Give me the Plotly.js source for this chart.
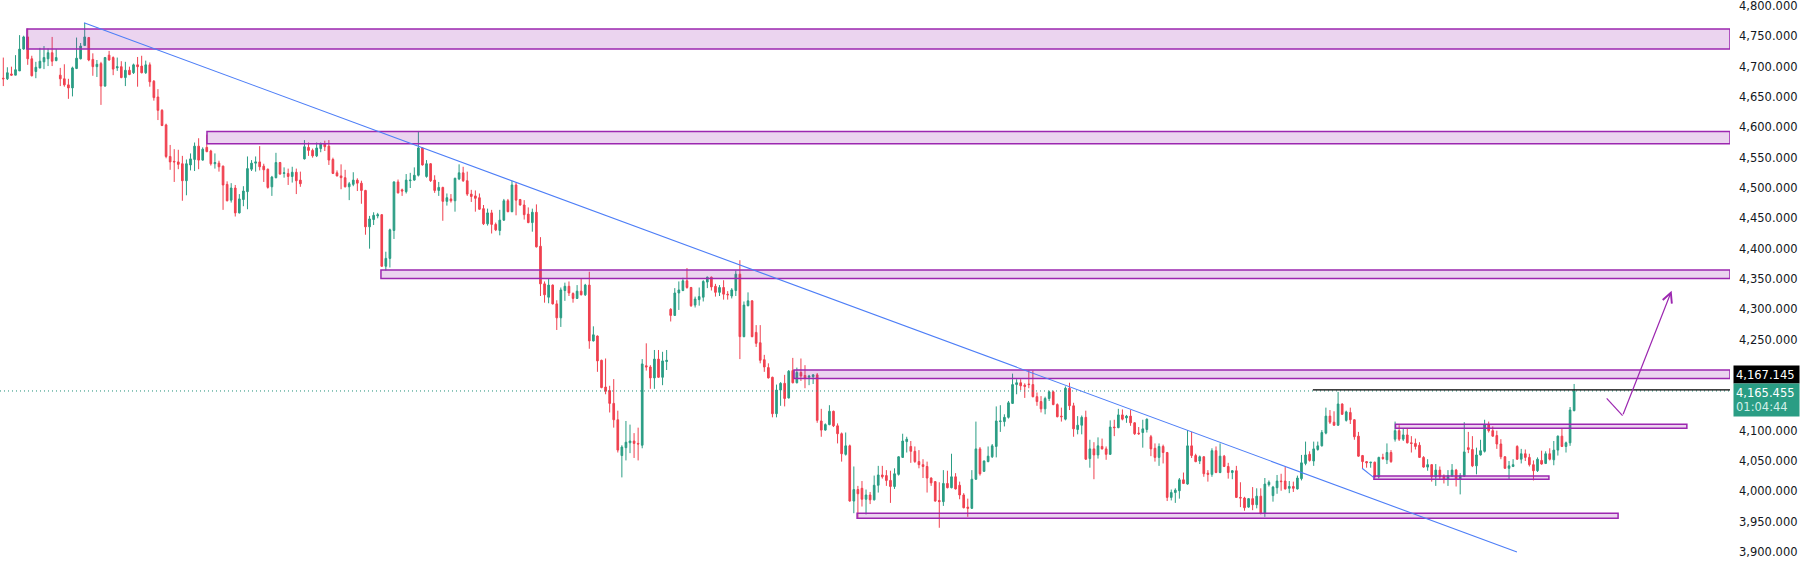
<!DOCTYPE html>
<html>
<head>
<meta charset="utf-8">
<script src="https://cdn.plot.ly/plotly-3.0.1.min.js"></script>
<style>
  html, body { margin: 0; padding: 0; background: #ffffff; }
  #chart { width: 1802px; height: 563px; }
</style>
</head>
<body>
<div id="chart"></div>
<script>
// ---- candle data ----
const openPrices = [
  4681,4680,4688,4686,4693,4729,4749,4713,4692,4698,
  4708,4713,4723,4710,4686,4680,4670,4665,4697,4713,
  4735,4748,4712,4700,4705,4668,4719,4715,4698,4700,
  4682,4694,4690,4703,4701,4690,4703,4676,4650,4628,
  4604,4552,4544,4543,4540,4512,4538,4547,4569,4546,
  4567,4561,4540,4541,4536,4506,4480,4500,4459,4481,
  4494,4531,4541,4543,4536,4531,4502,4517,4542,4524,
  4524,4519,4526,4513,4548,4567,4562,4553,4565,4573,
  4569,4547,4525,4520,4517,4502,4506,4513,4508,4496,
  4436,4448,4454,4456,4371,4384,4430,4510,4497,4494,
  4512,4513,4521,4566,4519,4540,4513,4496,4501,4478,
  4482,4479,4515,4525,4512,4490,4487,4484,4466,4441,
  4459,4440,4430,4447,4479,4461,4505,4481,4472,4457,
  4443,4460,4404,4342,4320,4340,4309,4286,4331,4338,
  4326,4318,4330,4324,4340,4248,4256,4216,4172,4166,
  4145,4118,4059,4072,4080,4083,4079,4076,4207,4205,
  4187,4218,4188,4214,4300,4290,4327,4331,4347,4336,
  4307,4316,4320,4345,4353,4338,4328,4336,4325,4322,
  4331,4358,4255,4306,4314,4262,4245,4217,4204,4188,
  4128,4167,4178,4154,4199,4179,4196,4191,4188,4189,
  4192,4116,4101,4110,4132,4108,4095,4061,4075,3984,
  4003,4005,3987,3994,3986,4010,4027,4026,4018,4008,
  4028,4056,4082,4074,4066,4049,4044,4041,4022,4016,
  3985,3983,4013,4006,4024,4010,3994,3974,3972,4020,
  4070,4033,4049,4057,4074,4115,4115,4122,4145,4176,
  4179,4175,4177,4176,4156,4148,4136,4153,4164,4143,
  4124,4119,4170,4141,4102,4109,4122,4054,4070,4060,
  4074,4070,4061,4106,4105,4126,4121,4124,4113,4096,
  4097,4102,4090,4071,4056,4074,4064,3990,3998,4001,
  4019,4012,4075,4059,4050,4057,4030,4028,4067,4031,
  4058,4041,4031,4034,3990,3989,3974,3988,3978,3992,
  3964,4011,3993,4006,4017,4017,4005,4008,4004,4021,
  4046,4061,4050,4069,4075,4096,4124,4114,4109,4144,
  4117,4130,4118,4091,4059,4049,4047,4048,4024,4056,
  4052,4064,4086,4100,4086,4093,4080,4079,4076,4056,
  4040,4044,4024,4035,4025,4020,4025,4035,4020,4025,
  4072,4069,4042,4060,4066,4110,4100,4092,4078,4057,
  4038,4041,4074,4053,4062,4056,4044,4034,4051,4046,
  4062,4052,4068,4091,4074,4080,4133
];
const highPrices = [
  4715,4699,4700,4719,4752,4751,4763,4718,4708,4731,
  4734,4730,4749,4729,4698,4704,4680,4700,4748,4739,
  4772,4749,4722,4711,4708,4716,4726,4717,4715,4709,
  4708,4700,4705,4716,4718,4710,4707,4678,4663,4630,
  4606,4571,4564,4563,4553,4547,4557,4575,4582,4567,
  4588,4563,4557,4545,4537,4511,4508,4505,4490,4503,
  4552,4546,4552,4569,4540,4532,4520,4558,4543,4534,
  4532,4535,4532,4527,4579,4575,4565,4575,4575,4578,
  4579,4550,4529,4539,4530,4510,4526,4516,4512,4497,
  4454,4460,4459,4457,4395,4433,4511,4514,4499,4523,
  4525,4534,4594,4567,4546,4541,4521,4510,4502,4491,
  4490,4517,4539,4535,4527,4497,4496,4491,4472,4466,
  4464,4443,4464,4482,4482,4512,4509,4482,4480,4468,
  4466,4473,4419,4346,4351,4341,4315,4336,4344,4346,
  4328,4340,4351,4342,4362,4272,4257,4217,4219,4174,
  4185,4133,4076,4116,4110,4096,4105,4218,4244,4208,
  4233,4233,4230,4233,4302,4335,4346,4352,4368,4337,
  4321,4336,4348,4354,4354,4342,4340,4348,4330,4335,
  4364,4381,4313,4328,4315,4274,4274,4225,4211,4189,
  4176,4180,4192,4200,4220,4204,4219,4208,4192,4193,
  4195,4136,4112,4142,4133,4112,4097,4097,4077,4041,
  4009,4017,4003,3999,4026,4042,4042,4035,4034,4038,
  4058,4095,4090,4083,4074,4068,4053,4049,4023,4017,
  4015,4035,4034,4062,4030,4016,3997,3988,4035,4115,
  4073,4051,4074,4078,4140,4142,4127,4149,4194,4185,
  4185,4178,4199,4199,4163,4157,4156,4166,4166,4145,
  4138,4173,4179,4146,4124,4125,4133,4085,4081,4089,
  4087,4074,4117,4118,4136,4135,4126,4134,4114,4106,
  4118,4120,4093,4079,4079,4077,4065,4003,4005,4022,
  4031,4101,4098,4062,4059,4058,4035,4071,4074,4079,
  4060,4047,4035,4042,4015,3991,3989,4007,4005,4005,
  4022,4018,4009,4027,4029,4040,4017,4016,4026,4060,
  4082,4066,4082,4082,4101,4138,4134,4132,4164,4145,
  4133,4138,4119,4098,4060,4050,4048,4049,4057,4062,
  4079,4068,4115,4109,4104,4104,4091,4087,4081,4058,
  4053,4045,4045,4041,4028,4035,4045,4037,4030,4114,
  4098,4091,4072,4085,4118,4115,4107,4100,4086,4058,
  4050,4053,4076,4070,4069,4062,4051,4056,4067,4066,
  4071,4083,4092,4104,4082,4139,4177
];
const lowPrices = [
  4668,4678,4685,4686,4693,4728,4703,4684,4681,4697,
  4696,4701,4701,4709,4668,4667,4647,4651,4696,4712,
  4734,4709,4685,4683,4637,4667,4710,4686,4693,4681,
  4668,4686,4688,4667,4689,4688,4667,4644,4612,4602,
  4549,4530,4510,4531,4479,4488,4529,4528,4531,4545,
  4559,4537,4532,4527,4464,4478,4476,4453,4458,4470,
  4465,4528,4527,4529,4510,4499,4487,4516,4522,4517,
  4505,4509,4490,4502,4547,4553,4550,4551,4559,4561,
  4538,4523,4519,4498,4501,4480,4503,4495,4474,4423,
  4400,4439,4450,4370,4364,4369,4416,4491,4487,4491,
  4500,4512,4519,4537,4517,4510,4492,4487,4446,4471,
  4476,4461,4513,4510,4487,4477,4461,4464,4439,4438,
  4425,4429,4422,4446,4460,4460,4455,4471,4448,4442,
  4428,4402,4322,4311,4310,4308,4266,4271,4314,4322,
  4311,4317,4323,4322,4235,4247,4197,4170,4160,4130,
  4105,4064,4023,4051,4063,4055,4051,4071,4199,4169,
  4169,4187,4175,4200,4280,4289,4299,4330,4334,4304,
  4303,4306,4313,4335,4331,4321,4322,4316,4316,4318,
  4322,4218,4254,4305,4254,4238,4211,4197,4186,4122,
  4122,4141,4140,4153,4178,4178,4182,4170,4175,4177,
  4113,4090,4100,4109,4106,4079,4049,4059,3983,3964,
  3956,3975,3962,3979,3985,3998,4021,4009,3981,4004,
  4026,4055,4064,4047,4047,4038,4022,3998,4009,3983,
  3940,3976,4005,4005,4003,3987,3972,3958,3971,4019,
  4026,4032,4048,4055,4056,4098,4107,4120,4144,4160,
  4167,4154,4170,4155,4141,4130,4127,4149,4142,4122,
  4115,4117,4134,4090,4094,4094,4052,4039,4020,4054,
  4069,4052,4060,4091,4104,4117,4113,4108,4093,4093,
  4072,4097,4058,4049,4042,4046,3984,3985,3981,3988,
  4012,4011,4055,4048,4045,4024,4016,4024,4030,4030,
  4040,4021,4020,3989,3974,3968,3973,3969,3972,3962,
  3958,4008,3983,3996,4001,4003,3997,3999,4003,4018,
  4043,4049,4042,4067,4074,4094,4111,4108,4108,4126,
  4115,4111,4085,4057,4038,4039,4039,4021,4021,4052,
  4045,4047,4082,4083,4083,4079,4064,4069,4055,4039,
  4034,4016,4009,4020,4013,4009,4024,4008,3995,4024,
  4063,4040,4028,4059,4064,4097,4090,4070,4053,4037,
  4020,4040,4052,4046,4050,4041,4018,4032,4044,4045,
  4051,4043,4059,4073,4064,4075,4132
];
const closePrices = [
  4680,4690,4686,4695,4729,4749,4713,4685,4699,4709,
  4715,4723,4709,4715,4680,4670,4665,4698,4714,4734,
  4749,4711,4700,4704,4668,4715,4711,4696,4700,4682,
  4694,4687,4703,4700,4690,4703,4675,4649,4628,4603,
  4552,4543,4543,4539,4512,4540,4548,4569,4546,4564,
  4560,4540,4542,4535,4505,4479,4500,4459,4482,4495,
  4532,4541,4543,4535,4530,4501,4518,4542,4523,4525,
  4519,4526,4512,4507,4568,4562,4553,4566,4573,4568,
  4546,4524,4520,4517,4502,4507,4513,4508,4496,4436,
  4449,4455,4456,4371,4384,4431,4510,4492,4495,4513,
  4513,4521,4566,4538,4540,4512,4496,4501,4478,4484,
  4479,4516,4525,4512,4490,4486,4483,4465,4441,4459,
  4440,4431,4447,4479,4461,4505,4480,4472,4456,4443,
  4460,4403,4342,4324,4340,4309,4286,4332,4338,4327,
  4318,4330,4324,4340,4248,4258,4215,4171,4165,4145,
  4118,4068,4073,4081,4083,4079,4078,4210,4205,4187,
  4218,4188,4215,4216,4290,4327,4332,4347,4336,4306,
  4317,4321,4346,4353,4337,4328,4336,4325,4324,4332,
  4358,4255,4307,4314,4255,4244,4216,4205,4187,4128,
  4167,4178,4153,4198,4179,4196,4190,4186,4190,4192,
  4117,4101,4110,4132,4108,4095,4062,4075,3984,4003,
  3996,3987,3994,3986,4010,4027,4024,4018,4008,4029,
  4057,4083,4086,4066,4049,4044,4041,4022,4014,3984,
  3983,4013,4006,4024,4004,3994,3973,3972,4020,4070,
  4029,4050,4058,4075,4116,4116,4122,4146,4176,4179,
  4174,4173,4176,4156,4148,4136,4153,4164,4143,4123,
  4123,4170,4141,4103,4109,4122,4053,4070,4060,4075,
  4070,4061,4106,4105,4126,4119,4124,4113,4095,4095,
  4103,4119,4070,4056,4074,4064,3990,3998,4002,4019,
  4013,4075,4059,4049,4057,4029,4028,4067,4031,4058,
  4041,4031,4034,3990,3989,3973,3988,3978,3992,3964,
  4012,4015,4007,4017,4016,4004,4008,4005,4022,4047,
  4060,4051,4070,4075,4097,4124,4114,4109,4144,4127,
  4131,4118,4090,4058,4049,4047,4048,4024,4056,4054,
  4064,4049,4100,4086,4093,4080,4079,4074,4056,4040,
  4044,4024,4035,4024,4020,4026,4035,4020,4026,4065,
  4069,4042,4060,4067,4110,4100,4091,4078,4057,4038,
  4042,4044,4053,4062,4056,4044,4034,4053,4045,4062,
  4053,4068,4091,4074,4080,4134,4165.455
];

// ---- y axis ticks ----
const yTickValues = [3900,3950,4000,4050,4100,4250,4300,4350,4400,4450,4500,4550,4600,4650,4700,4750,4800];

// ---- drawn zones (candle index / price) ----
const zoneStart = [5.8, 50.05, 92.8, 194.3, 209.8, 342.1, 336.8];
const zoneEnd   = [424.3, 424.3, 424.3, 424.3, 396.8, 413.7, 379.8];
const zoneLow   = [4729, 4573, 4351, 4186, 3955.6, 4104, 4020];
const zoneHigh  = [4762, 4593, 4365, 4200, 3963.8, 4110.5, 4025.3];

// ---- trend lines ----
const trendX = [19.83, 371.95];
const trendY = [4772.5, 3900];
const smallTrendX = [333.9, 336.8];
const smallTrendY = [4038, 4022.6];

// ---- projection arrow ----
const arrowX = [394.0, 397.9, 409.96];
const arrowY = [4153.4, 4124.7, 4330.7];

// ---- price levels ----
const lastPrice = 4165.455;
const markedLevel = 4167.145;
const markedLevelStart = 321.8;
const lastPriceText = '4,165.455';
const markedLevelText = '4,167.145';
const countdownText = '01:04:44';

const candleIndex = openPrices.map((_, i) => i);

const UP = '#2a9d84';
const DOWN = '#f0404f';
const PURPLE = '#9c27b0';
const ZONE_FILL = 'rgba(156,39,176,0.2)';

const trace = {
  type: 'candlestick',
  x: candleIndex,
  open: openPrices,
  high: highPrices,
  low: lowPrices,
  close: closePrices,
  increasing: { line: { color: UP, width: 1 }, fillcolor: UP },
  decreasing: { line: { color: DOWN, width: 1 }, fillcolor: DOWN },
  whiskerwidth: 0,
  hoverinfo: 'skip',
  showlegend: false
};

const X_MAX = 424.3;
const shapes = [];

// current price dotted line
shapes.push({
  type: 'line', xref: 'paper', yref: 'y', x0: 0, x1: 1,
  y0: lastPrice, y1: lastPrice,
  line: { color: '#1e8f77', width: 1, dash: '1px,3px' }, layer: 'above'
});

zoneStart.forEach((x0, k) => {
  shapes.push({
    type: 'rect', xref: 'x', yref: 'y',
    x0: x0, x1: zoneEnd[k], y0: zoneLow[k], y1: zoneHigh[k],
    fillcolor: ZONE_FILL, line: { color: PURPLE, width: 1.5 }, layer: 'above'
  });
});

shapes.push({
  type: 'line', xref: 'x', yref: 'y',
  x0: trendX[0], y0: trendY[0], x1: trendX[1], y1: trendY[1],
  line: { color: '#4d7ef7', width: 1.1 }, layer: 'above'
});
shapes.push({
  type: 'line', xref: 'x', yref: 'y',
  x0: smallTrendX[0], y0: smallTrendY[0], x1: smallTrendX[1], y1: smallTrendY[1],
  line: { color: '#4d7ef7', width: 1.1 }, layer: 'above'
});
shapes.push({
  type: 'line', xref: 'x', yref: 'y',
  x0: markedLevelStart, y0: markedLevel, x1: X_MAX, y1: markedLevel,
  line: { color: '#000000', width: 1.3 }, layer: 'above'
});
shapes.push({
  type: 'line', xref: 'x', yref: 'y',
  x0: arrowX[0], y0: arrowY[0], x1: arrowX[1], y1: arrowY[1],
  line: { color: PURPLE, width: 1.2 }, layer: 'above'
});

const LABEL_FONT = 'DejaVu Sans, Verdana, sans-serif';

const annotations = [
  {
    xref: 'x', yref: 'y', axref: 'x', ayref: 'y',
    x: arrowX[2], y: arrowY[2], ax: arrowX[1], ay: arrowY[1],
    text: '', showarrow: true, arrowhead: 5, arrowsize: 1.6, arrowwidth: 1.2,
    arrowcolor: PURPLE, standoff: 0, startstandoff: 0
  },
  {
    xref: 'paper', yref: 'y', x: 1, y: 4191.8, xanchor: 'left', yanchor: 'middle',
    xshift: 3, text: markedLevelText, showarrow: false,
    bgcolor: '#000000', borderpad: 2, width: 61, height: 13, align: 'left',
    font: { family: LABEL_FONT, size: 11.5, color: '#ffffff' }
  },
  {
    xref: 'paper', yref: 'y', x: 1, y: 4151.4, xanchor: 'left', yanchor: 'middle',
    xshift: 3, showarrow: false,
    text: lastPriceText + '<br><span style="color:#d4f0e9">' + countdownText + '</span>',
    bgcolor: UP, borderpad: 2, width: 61, height: 28, align: 'left',
    font: { family: LABEL_FONT, size: 11.5, color: '#ffffff' }
  }
];

const layout = {
  width: 1802, height: 563,
  margin: { l: 0, r: 72, t: 0, b: 0, pad: 0 },
  paper_bgcolor: '#ffffff', plot_bgcolor: '#ffffff',
  showlegend: false,
  boxgap: 0.42,
  xaxis: {
    range: [-0.81, X_MAX], visible: false, showgrid: false, zeroline: false,
    rangeslider: { visible: false }, fixedrange: true
  },
  yaxis: {
    side: 'right', range: [3881.9, 4809.9], showgrid: false, zeroline: false,
    showline: false, ticks: '', tickvals: yTickValues, tickformat: ',.3f',
    ticklabelstandoff: 8, ticklabeloverflow: 'allow', automargin: false, fixedrange: true,
    tickfont: { family: LABEL_FONT, size: 11.5, color: '#131722' }
  },
  shapes: shapes,
  annotations: annotations
};

Plotly.newPlot('chart', [trace], layout, { displayModeBar: false, staticPlot: true });
</script>
</body>
</html>
